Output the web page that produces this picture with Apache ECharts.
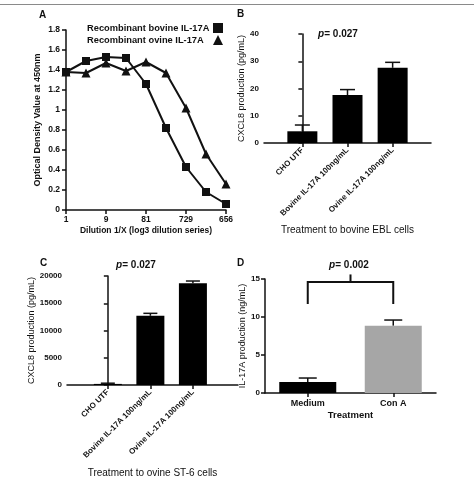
<!DOCTYPE html>
<html>
<head>
<meta charset="utf-8">
<script src="https://cdn.jsdelivr.net/npm/echarts@6/dist/echarts.min.js"></script>
<style>
    html, body { margin: 0; padding: 0; background: #fff; }
    #main { width: 474px; height: 480px; }
</style>
</head>
<body>
<div id="main"></div>
<script>
// A: OD vs dilution
var dilutions = ['1', '3', '9', '27', '81', '243', '729', '2187', '656'];
var bovineOD = [1.38, 1.49, 1.53, 1.52, 1.26, 0.82, 0.43, 0.18, 0.06];
var ovineOD = [1.38, 1.37, 1.47, 1.39, 1.48, 1.37, 1.02, 0.56, 0.26];
var odTicks = [0, 1.8, 0.2];

// B: bovine EBL cells
var treatCats = ['CHO UTF', 'Bovine IL-17A 100ng/mL', 'Ovine IL-17A 100ng/mL'];
var eblMean = [4.3, 17.6, 27.6];
var eblUpper = [6.6, 19.6, 29.6];

// C: ovine ST-6 cells
var stMean = [200, 12700, 18650];
var stUpper = [330, 13150, 19080];

// D: IL-17A
var dCats = ['Medium', 'Con A'];
var dMean = [1.45, 8.85];
var dUpper = [1.97, 9.6];
var dBracket = [14.6, 11.7, 15.6]; // top, leg end, centre tick

var FONT = '"Liberation Sans", Arial, sans-serif';

var chart = echarts.init(document.getElementById('main'));

function axisCommon(extra) {
    var o = {
        axisLine: { show: true, lineStyle: { color: '#111', width: 1.5 } },
        axisTick: { show: true, length: 4, lineStyle: { color: '#111', width: 1.5 } },
        axisLabel: { color: '#111', fontFamily: FONT, fontWeight: 'bold', fontSize: 8 },
        splitLine: { show: false },
        nameTextStyle: { color: '#111', fontFamily: FONT, fontSize: 9 }
    };
    for (var k in extra) {
        if (typeof extra[k] === 'object' && o[k] && !Array.isArray(extra[k])) {
            for (var j in extra[k]) o[k][j] = extra[k][j];
        } else {
            o[k] = extra[k];
        }
    }
    return o;
}

function errRender(capW) {
    return function (params, api) {
        var x = api.value(0);
        var base = api.coord([x, api.value(1)]);
        var top = api.coord([x, api.value(2)]);
        var st = { stroke: '#111', lineWidth: 1.5 };
        return {
            type: 'group',
            children: [
                { type: 'line', shape: { x1: base[0], y1: base[1], x2: top[0], y2: top[1] }, style: st },
                { type: 'line', shape: { x1: top[0] - capW / 2, y1: top[1], x2: top[0] + capW / 2, y2: top[1] }, style: st }
            ]
        };
    };
}

function idx(arr) {
    return arr.map(function (v, i) { return [i, v]; });
}
function errData(mean, upper) {
    return mean.map(function (v, i) { return [i, v, upper[i]]; });
}

function pText(x, y, val) {
    return {
        type: 'text', x: x, y: y,
        style: {
            text: '{i|p}= ' + val,
            fontFamily: FONT, fontSize: 10, fontWeight: 'bold', fill: '#111',
            align: 'center', verticalAlign: 'middle',
            rich: { i: { fontStyle: 'italic', fontWeight: 'bold', fontSize: 10, fontFamily: FONT, fill: '#111' } }
        }
    };
}
function letter(x, y, t) {
    return {
        type: 'text', x: x, y: y,
        style: { text: t, fontFamily: FONT, fontSize: 10, fontWeight: 'bold', fill: '#111', verticalAlign: 'middle' }
    };
}

var catFmt = function (v) { return treatCats[Math.round(v)] || ''; };
var plainNum = function (v) { return String(v); };

var option = {
    animation: false,
    backgroundColor: '#fff',
    textStyle: { fontFamily: FONT },
    grid: [
        { left: 66, top: 30, width: 160, height: 180 },
        { left: 264, top: 34, width: 167, height: 109 },
        { left: 67, top: 276, width: 171, height: 109 },
        { left: 265, top: 279, width: 171, height: 114 }
    ],
    legend: {
        left: 82, top: 18, orient: 'vertical', align: 'right',
        itemWidth: 10, itemHeight: 10, itemGap: 2,
        data: [
            { name: 'Recombinant bovine IL-17A', icon: 'rect' },
            { name: 'Recombinant ovine IL-17A', icon: 'triangle' }
        ],
        formatter: '{n|{name}}',
        textStyle: {
            color: '#111', fontFamily: FONT, fontWeight: 'bold', fontSize: 9,
            rich: { n: { width: 121, align: 'left', color: '#111', fontFamily: FONT, fontWeight: 'bold', fontSize: 9.3 } }
        }
    },
    xAxis: [
        axisCommon({
            gridIndex: 0, type: 'category', data: dilutions, boundaryGap: false,
            name: 'Dilution 1/X (log3 dilution series)', nameLocation: 'middle', nameGap: 16,
            nameTextStyle: { fontWeight: 'bold', fontSize: 8.5 },
            axisTick: { interval: 1, alignWithLabel: true },
            axisLabel: { interval: 1, margin: 5, fontSize: 8.5 }
        }),
        axisCommon({
            gridIndex: 1, type: 'value', min: -0.85, max: 2.85,
            name: 'Treatment to bovine EBL cells', nameLocation: 'middle', nameGap: 82,
            nameTextStyle: { fontSize: 10 },
            axisTick: { customValues: [0, 1, 2] },
            axisLabel: { customValues: [0, 1, 2], rotate: 45, formatter: catFmt, margin: 6 }
        }),
        axisCommon({
            gridIndex: 2, type: 'value', min: -0.96, max: 3.06,
            name: 'Treatment to ovine ST-6 cells', nameLocation: 'middle', nameGap: 83,
            nameTextStyle: { fontSize: 10 },
            axisTick: { customValues: [0, 1, 2] },
            axisLabel: { customValues: [0, 1, 2], rotate: 45, formatter: catFmt, margin: 6 }
        }),
        axisCommon({
            gridIndex: 3, type: 'category', data: dCats,
            name: 'Treatment', nameLocation: 'middle', nameGap: 17,
            nameTextStyle: { fontWeight: 'bold', fontSize: 9.5 },
            axisTick: { alignWithLabel: true },
            axisLabel: { fontSize: 9, margin: 6 }
        })
    ],
    yAxis: [
        axisCommon({
            gridIndex: 0, type: 'value', min: odTicks[0], max: odTicks[1], interval: odTicks[2],
            name: 'Optical Density Value at 450nm', nameLocation: 'middle', nameGap: 24,
            nameTextStyle: { fontWeight: 'bold', fontSize: 9 },
            axisLabel: { fontSize: 8.5, margin: 6 }
        }),
        axisCommon({
            gridIndex: 1, type: 'value', min: 0, max: 40, interval: 10,
            name: 'CXCL8 production (pg/mL)', nameLocation: 'middle', nameGap: 17,
            axisLabel: { margin: 5 }
        }),
        axisCommon({
            gridIndex: 2, type: 'value', min: 0, max: 20000, interval: 5000,
            name: 'CXCL8 production (pg/mL)', nameLocation: 'middle', nameGap: 21,
            axisLabel: { margin: 5, formatter: plainNum }
        }),
        axisCommon({
            gridIndex: 3, type: 'value', min: 0, max: 15, interval: 5,
            name: 'IL-17A production (ng/mL)', nameLocation: 'middle', nameGap: 16,
            axisLabel: { margin: 5 }
        })
    ],
    series: [
        {
            name: 'Recombinant bovine IL-17A', type: 'line', xAxisIndex: 0, yAxisIndex: 0,
            data: bovineOD, symbol: 'rect', symbolSize: 8,
            itemStyle: { color: '#111' }, lineStyle: { color: '#111', width: 2 }
        },
        {
            name: 'Recombinant ovine IL-17A', type: 'line', xAxisIndex: 0, yAxisIndex: 0,
            data: ovineOD, symbol: 'triangle', symbolSize: 9,
            itemStyle: { color: '#111' }, lineStyle: { color: '#111', width: 2 }
        },
        {
            type: 'custom', xAxisIndex: 1, yAxisIndex: 1, renderItem: errRender(15),
            data: errData(eblMean, eblUpper), z: 1
        },
        {
            type: 'bar', xAxisIndex: 1, yAxisIndex: 1, barWidth: 30,
            data: idx(eblMean), itemStyle: { color: '#000' }, z: 2
        },
        {
            type: 'custom', xAxisIndex: 2, yAxisIndex: 2, renderItem: errRender(14),
            data: errData(stMean, stUpper), z: 1
        },
        {
            type: 'bar', xAxisIndex: 2, yAxisIndex: 2, barWidth: 28,
            data: idx(stMean), itemStyle: { color: '#000' }, z: 2
        },
        {
            type: 'custom', xAxisIndex: 3, yAxisIndex: 3, renderItem: errRender(18),
            data: errData(dMean, dUpper), z: 1
        },
        {
            type: 'bar', xAxisIndex: 3, yAxisIndex: 3, barWidth: 57,
            data: [
                { value: dMean[0], itemStyle: { color: '#000' } },
                { value: dMean[1], itemStyle: { color: '#a6a6a6' } }
            ],
            z: 2
        },
        {
            // significance bracket
            type: 'custom', xAxisIndex: 3, yAxisIndex: 3, clip: false,
            data: [[0, 1].concat(dBracket)],
            renderItem: function (params, api) {
                var a = api.coord([api.value(0), api.value(2)]);
                var b = api.coord([api.value(1), api.value(2)]);
                var aLeg = api.coord([api.value(0), api.value(3)]);
                var mid = (a[0] + b[0]) / 2;
                var tip = api.coord([0, api.value(4)]);
                var st = { stroke: '#111', lineWidth: 2, fill: null };
                return {
                    type: 'group',
                    children: [
                        { type: 'polyline', shape: { points: [[a[0], aLeg[1]], a, b, [b[0], aLeg[1]]] }, style: st },
                        { type: 'line', shape: { x1: mid, y1: a[1], x2: mid, y2: tip[1] }, style: st }
                    ]
                };
            }
        }
    ],
    graphic: [
        { type: 'line', shape: { x1: 0, y1: 4.5, x2: 474, y2: 4.5 }, style: { stroke: '#8a8a8a', lineWidth: 1 } },
        letter(39, 15, 'A'),
        letter(237, 14, 'B'),
        letter(40, 263, 'C'),
        letter(237, 263, 'D'),
        pText(338, 34, '0.027'),
        pText(136, 265, '0.027'),
        pText(349, 265, '0.002')
    ]
};
chart.setOption(option);
</script>
</body>
</html>
